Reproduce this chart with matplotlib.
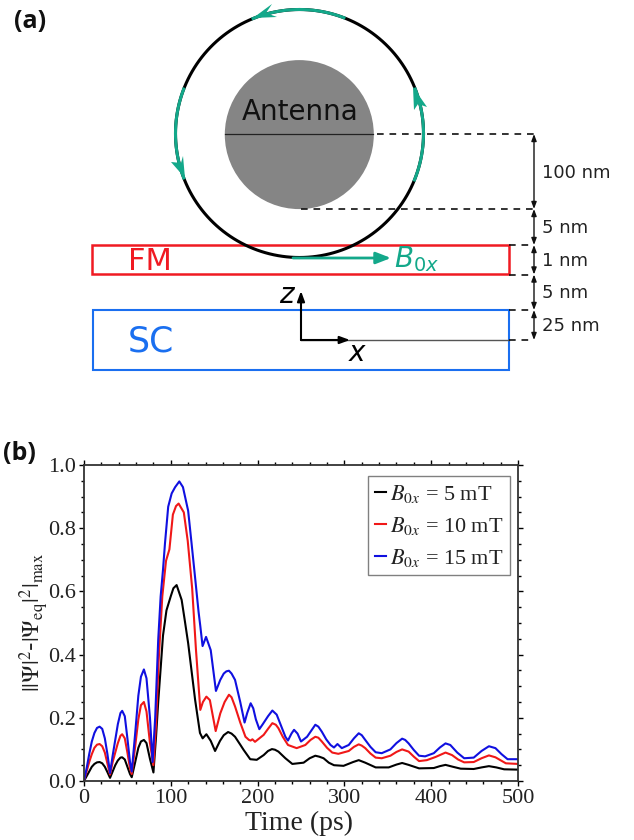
import numpy as np
import matplotlib
matplotlib.use("Agg")
import matplotlib.pyplot as plt
from matplotlib.patches import Circle, Rectangle

plt.rcParams['mathtext.fontset'] = 'stix'

# ---- panel (b) data ----
time_blue = [0, 3, 6, 9, 12, 15, 18, 21, 24, 27, 30, 33, 36, 39, 42, 44, 47, 50, 53, 55, 59, 62.6, 65.6, 69, 72, 76, 79, 82, 85.5, 88.3, 91, 93.3, 97, 101, 105, 109.8, 114, 120, 124, 128.5, 132, 134, 136.6, 140.6, 146, 152, 157, 161, 164, 167, 170, 174, 180, 185, 188, 192, 195, 198, 202, 206, 212, 217, 222, 227, 232, 235, 239, 242, 246, 250, 257, 262, 266.5, 270, 274, 279, 284, 288, 292, 297, 305, 311, 316.5, 320, 324, 330, 336, 343, 353, 360, 366.5, 370, 374, 380, 386, 393, 403, 410, 416.5, 422, 430, 438, 449, 458, 466.5, 474, 481, 488, 500]
val_blue = [0, .04, .085, .125, .152, .168, .172, .165, .135, .085, .025, .08, .13, .18, .215, .222, .205, .135, .06, .03, .152, .27, .33, .353, .325, .2, .06, .2, .447, .584, .668, .752, .868, .91, .93, .948, .93, .855, .75, .63, .535, .49, .427, .456, .414, .285, .32, .34, .347, .349, .34, .32, .25, .185, .215, .246, .23, .195, .164, .18, .205, .223, .21, .175, .14, .128, .15, .162, .15, .125, .14, .16, .178, .172, .156, .132, .114, .106, .117, .104, .114, .135, .151, .145, .13, .108, .091, .088, .1, .12, .134, .13, .119, .098, .08, .078, .088, .106, .119, .114, .09, .072, .074, .095, .11, .104, .085, .069, .069]
time_red = [0, 3, 6, 9, 12, 15, 18, 21, 24, 27, 30, 33, 36, 39, 42, 44, 47, 50, 53, 55, 59, 62.6, 65.6, 69, 72, 76, 80, 83, 86, 90.2, 94.5, 98.4, 102.4, 106, 109, 115, 119.5, 124.6, 129, 134, 137, 141, 145, 151.7, 157, 162, 167, 170, 174, 180, 186, 190, 192, 194, 197, 202, 207, 212, 217, 221, 224, 229, 235, 245, 255, 261, 266.5, 270, 274, 280, 286, 293, 305, 311, 316.5, 320, 324, 330, 336, 343, 353, 360, 366.5, 374, 380, 386, 395, 405, 416.5, 424, 431, 438, 449, 458, 466.5, 474, 486, 500]
val_red = [0, .03, .06, .085, .105, .115, .117, .11, .09, .055, .02, .06, .09, .12, .143, .148, .135, .09, .04, .022, .11, .195, .24, .25, .22, .12, .05, .18, .38, .584, .697, .733, .843, .87, .878, .85, .76, .61, .415, .225, .25, .267, .256, .158, .214, .25, .273, .265, .236, .185, .14, .13, .128, .132, .124, .135, .146, .165, .183, .178, .167, .14, .114, .104, .114, .13, .14, .137, .125, .105, .09, .086, .095, .108, .116, .112, .104, .087, .074, .072, .08, .092, .1, .093, .077, .063, .066, .076, .09, .082, .068, .059, .06, .072, .081, .075, .056, .054]
time_black = [0, 3, 6, 9, 12, 15, 18, 21, 24, 27, 30, 33, 36, 39, 42, 44, 47, 50, 53, 55, 59, 62.6, 65.6, 69, 72, 76, 80, 83, 85.5, 88.4, 91, 95, 100, 103, 106.7, 112.5, 116, 120, 128, 133.6, 136.7, 141, 146, 151, 156.7, 161, 166, 170, 174, 180, 184, 191.5, 199, 207, 212, 216.5, 220, 224, 232, 240, 253, 260, 266.5, 271, 276, 282, 288, 299, 310, 316.5, 324, 336, 351, 360, 366.5, 374, 386, 403, 410, 416.5, 425, 434, 449, 458, 466.5, 475, 484, 500]
val_black = [0, .015, .03, .045, .054, .059, .06, .056, .045, .028, .01, .03, .05, .065, .074, .075, .068, .045, .022, .012, .06, .105, .125, .13, .12, .07, .027, .14, .25, .36, .46, .54, .585, .61, .62, .573, .51, .436, .257, .152, .135, .148, .127, .095, .127, .145, .155, .15, .14, .115, .098, .069, .067, .082, .095, .101, .099, .093, .072, .054, .058, .072, .08, .077, .072, .058, .05, .048, .06, .066, .058, .043, .043, .052, .057, .051, .04, .041, .047, .051, .045, .039, .038, .043, .047, .043, .037, .036]

legend_labels = [r'$B_{0x}$ = 5 mT', r'$B_{0x}$ = 10 mT', r'$B_{0x}$ = 15 mT']
x_ticks = [0, 100, 200, 300, 400, 500]
y_ticks = [0.0, 0.2, 0.4, 0.6, 0.8, 1.0]

# ---- schematic labels ----
dim_labels = ['100 nm', '5 nm', '1 nm', '5 nm', '25 nm']
dim_levels = [134, 209, 245, 274.5, 310, 340]

GREEN = '#13a88a'
W, H = 634, 840
fig = plt.figure(figsize=(W / 100, H / 100), dpi=100, facecolor='white')

# ---------- panel (b) ----------
ax = fig.add_axes([84 / W, (H - 781) / H, 434 / W, 316 / H])
ax.plot(time_black, val_black, color='black', lw=1.5, label=legend_labels[0])
ax.plot(time_red, val_red, color='#f01818', lw=1.5, label=legend_labels[1])
ax.plot(time_blue, val_blue, color='#1010e0', lw=1.5, label=legend_labels[2])
ax.set_xlim(0, 500)
ax.set_ylim(0, 1)
ax.set_xticks(x_ticks)
ax.set_yticks(y_ticks)
ax.set_yticklabels([f'{v:.1f}' for v in y_ticks], family='Liberation Serif', fontsize=16, color='#222222')
ax.set_xticklabels([str(v) for v in x_ticks], family='Liberation Serif', fontsize=16, color='#222222')
ax.set_xticks(np.arange(0, 501, 20), minor=True)
ax.set_yticks(np.arange(0, 1.001, 0.05), minor=True)
ax.tick_params(axis='both', which='major', direction='out', length=3.5, width=1, top=True, right=True, pad=2)
ax.tick_params(axis='both', which='minor', direction='out', length=2, width=1, top=True, right=True)
for s in ax.spines.values():
    s.set_linewidth(1.3)
    s.set_color('#333333')
fig.text(299 / W, 1 - 823 / H, 'Time (ps)', family='Liberation Serif', fontsize=20, ha='center', va='center',
         color='#222222')
fig.text(34 / W, 1 - 622 / H, r'$||\Psi|^2$-$|\Psi_{\mathrm{eq}}|^2|_{\mathrm{max}}$', rotation=90,
         fontsize=17, ha='center', va='center', color='#222222')
leg = ax.legend(loc='upper left', bbox_to_anchor=((368 - 84) / 434, 1 - (476 - 465) / 316),
                prop={'family': 'Liberation Serif', 'size': 16}, fancybox=False, framealpha=1,
                edgecolor='#808080', borderaxespad=0, borderpad=0.3, labelspacing=0.45,
                handlelength=0.5, handletextpad=0.2)
leg.get_frame().set_linewidth(1)
for t in leg.get_texts():
    t.set_color('#222222')

# ---------- panel (a): overlay in pixel units ----------
ov = fig.add_axes([0, 0, 1, 1])
ov.set_xlim(0, W)
ov.set_ylim(H, 0)
ov.axis('off')
ov.patch.set_alpha(0)

cx, cy, R = 299.5, 133.5, 124
ov.add_patch(Circle((299.3, 134.6), 74.5, fc='#858585', ec='none', zorder=1))
ov.plot([225, 373], [134, 134], color='#222222', lw=0.9, zorder=2)
ov.text(300, 112, 'Antenna', fontsize=20, ha='center', va='center', color='#111111', zorder=3)

# FM / SC
ov.add_patch(Rectangle((92, 244.7), 417, 29.6, fc='none', ec='#f01a22', lw=1.8, zorder=2))
ov.add_patch(Rectangle((93, 310.3), 416, 60, fc='none', ec='#1a6ff0', lw=1.5, zorder=2))
ov.text(128, 262, 'FM', fontsize=22, color='#f01a22', va='center', ha='left')
ov.text(128, 342, 'SC', fontsize=25, color='#1a6ff0', va='center', ha='left')

# ring
th = np.radians(np.linspace(0, 360, 361))
ov.plot(cx + R * np.cos(th), cy - R * np.sin(th), color='black', lw=2.2, zorder=4)


def arc(a0, a1):
    t = np.radians(np.linspace(a0, a1, 40))
    ov.plot(cx + R * np.cos(t), cy - R * np.sin(t), color=GREEN, lw=2.2, zorder=5)


arc(69, 112)
arc(-22, 21)
arc(159, 201)

# barbed ring arrow heads: tip, barb, notch, barb
head_top_x, head_top_y = [253, 272, 266, 277], [18, 4, 13, 17]
head_right_x, head_right_y = [413, 427, 418, 414], [87, 107, 104, 110]
head_left_x, head_left_y = [185, 171, 181, 183], [178, 162, 163, 156]
for hx, hy in [(head_top_x, head_top_y), (head_right_x, head_right_y), (head_left_x, head_left_y)]:
    ov.fill(hx, hy, color=GREEN, lw=0, zorder=6)

# B arrow
ov.annotate('', xy=(391, 258), xytext=(293, 258), zorder=6,
            arrowprops=dict(arrowstyle='-|>,head_length=0.9,head_width=0.35', color=GREEN, lw=2,
                            shrinkA=0, shrinkB=0))
ov.text(394, 259, r'$\mathit{B}_{0x}$', fontsize=20, color=GREEN, va='center', ha='left',
        math_fontfamily='dejavusans')

# coordinate arrows
ov.plot([301, 509], [340, 340], color='#555555', lw=1, zorder=2)
for xy in [(301, 291), (350, 340)]:
    ov.annotate('', xy=xy, xytext=(301, 340), zorder=6,
                arrowprops=dict(arrowstyle='-|>,head_length=0.6,head_width=0.22', color='black', lw=1.5,
                                shrinkA=0, shrinkB=0))
ov.text(288, 295, r'$z$', fontsize=20, ha='center', va='center', math_fontfamily='dejavusans')
ov.text(358, 353, r'$x$', fontsize=20, ha='center', va='center', math_fontfamily='dejavusans')

# dashed guides
for y, x0 in zip(dim_levels, [377, 301, 509, 509, 509, 509]):
    ov.plot([x0, 534], [y, y], color='#111111', lw=1.2, dashes=(4, 3.5), zorder=3)

# dimension arrows and labels
for y0, y1, lab in zip(dim_levels[:-1], dim_levels[1:], dim_labels):
    ov.annotate('', xy=(534, y0), xytext=(534, y1), zorder=6,
                arrowprops=dict(arrowstyle='<|-|>,head_length=0.4,head_width=0.15', color='#111111', lw=1,
                                shrinkA=0, shrinkB=0))
    ov.text(542, (y0 + y1) / 2 + 1, lab, fontsize=13, color='#222222', va='center', ha='left')

ov.text(14, 22, '(a)', fontsize=18, fontweight='bold', family='Open Sans', va='center', color='#111111')
ov.text(3, 453, '(b)', fontsize=18, fontweight='bold', family='Open Sans', va='center', color='#111111')

fig.savefig('out.png', dpi=100)
